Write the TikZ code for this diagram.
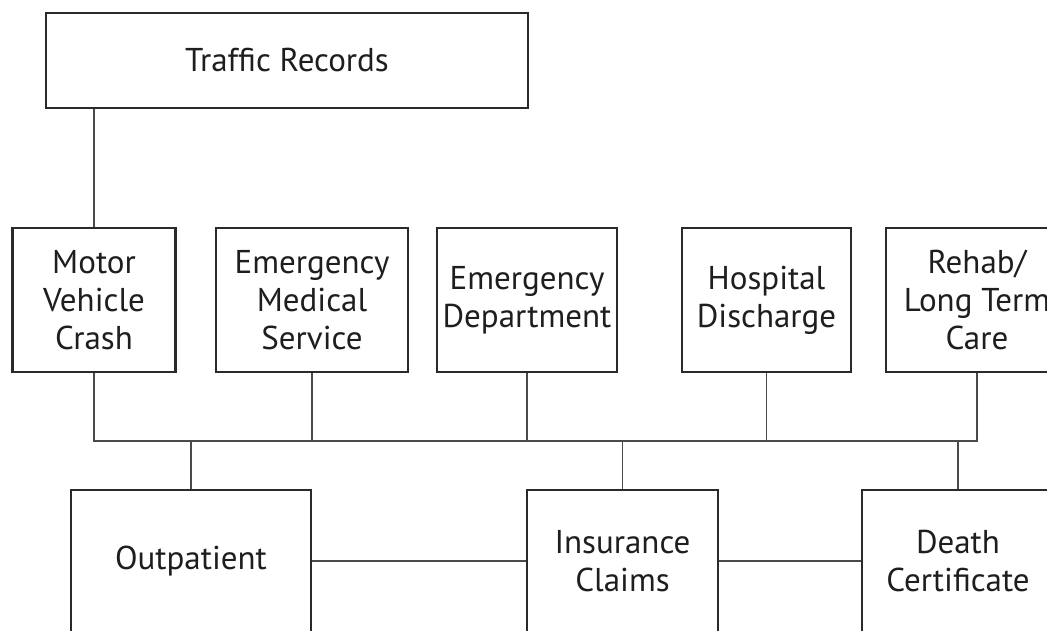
\documentclass[tikz,border=0pt]{standalone}
\usepackage{fontspec}
\setmainfont{PT Sans}
\definecolor{boxline}{HTML}{2A2A2A}
\definecolor{wire}{HTML}{4A4A4A}
\definecolor{ink}{HTML}{1E1E1E}
\begin{document}
\begin{tikzpicture}[x=1pt,y=-1pt,
  box/.style={draw=boxline,line width=2.4pt,fill=white,rectangle,inner sep=0pt,
    align=center,text=ink,font=\fontsize{33}{38}\selectfont},
  link/.style={draw=wire,line width=1.7pt}]
\useasboundingbox (0,0) rectangle (1047,631);
\begin{scope}
\clip (0,0) rectangle (1047,631);

% top-level source
\node[box,minimum width=482pt,minimum height=95pt] (tr) at (287,60.5) {Traffic Records};

% middle row of data systems
\node[box,minimum width=163pt,minimum height=144pt] (mvc) at (94,300) {Motor\\Vehicle\\Crash};
\node[box,minimum width=192pt,minimum height=144pt] (ems) at (312,300) {Emergency\\Medical\\Service};
\node[box,minimum width=180pt,minimum height=144pt] (ed) at (527,300) {Emergency\\Department};
\node[box,minimum width=169pt,minimum height=144pt] (hd) at (766.5,300) {Hospital\\Discharge};
\node[box,minimum width=182pt,minimum height=144pt] (rehab) at (977,300) {Rehab/\\Long Term\\Care};

% bottom row
\node[box,minimum width=240pt,minimum height=142pt] (out) at (191,561) {Outpatient};
\node[box,minimum width=191pt,minimum height=142pt] (ins) at (622.5,561) {Insurance\\Claims};
\node[box,minimum width=192pt,minimum height=142pt] (dc) at (958,561) {Death\\Certificate};

% shared bus
\coordinate (bus) at (0,441);

\draw[link] (tr.south -| mvc.south) -- (mvc.north);
\draw[link] (mvc.south) -- (mvc.south |- bus) -- (rehab.south |- bus) -- (rehab.south);
\foreach \n in {ems,ed,hd}
  \draw[link] (\n.south) -- (\n.south |- bus);
\foreach \n in {out,ins,dc}
  \draw[link] (\n.north) -- (\n.north |- bus);

\draw[link] (out.east) -- (ins.west);
\draw[link] (ins.east) -- (dc.west);
\end{scope}
\end{tikzpicture}
\end{document}
